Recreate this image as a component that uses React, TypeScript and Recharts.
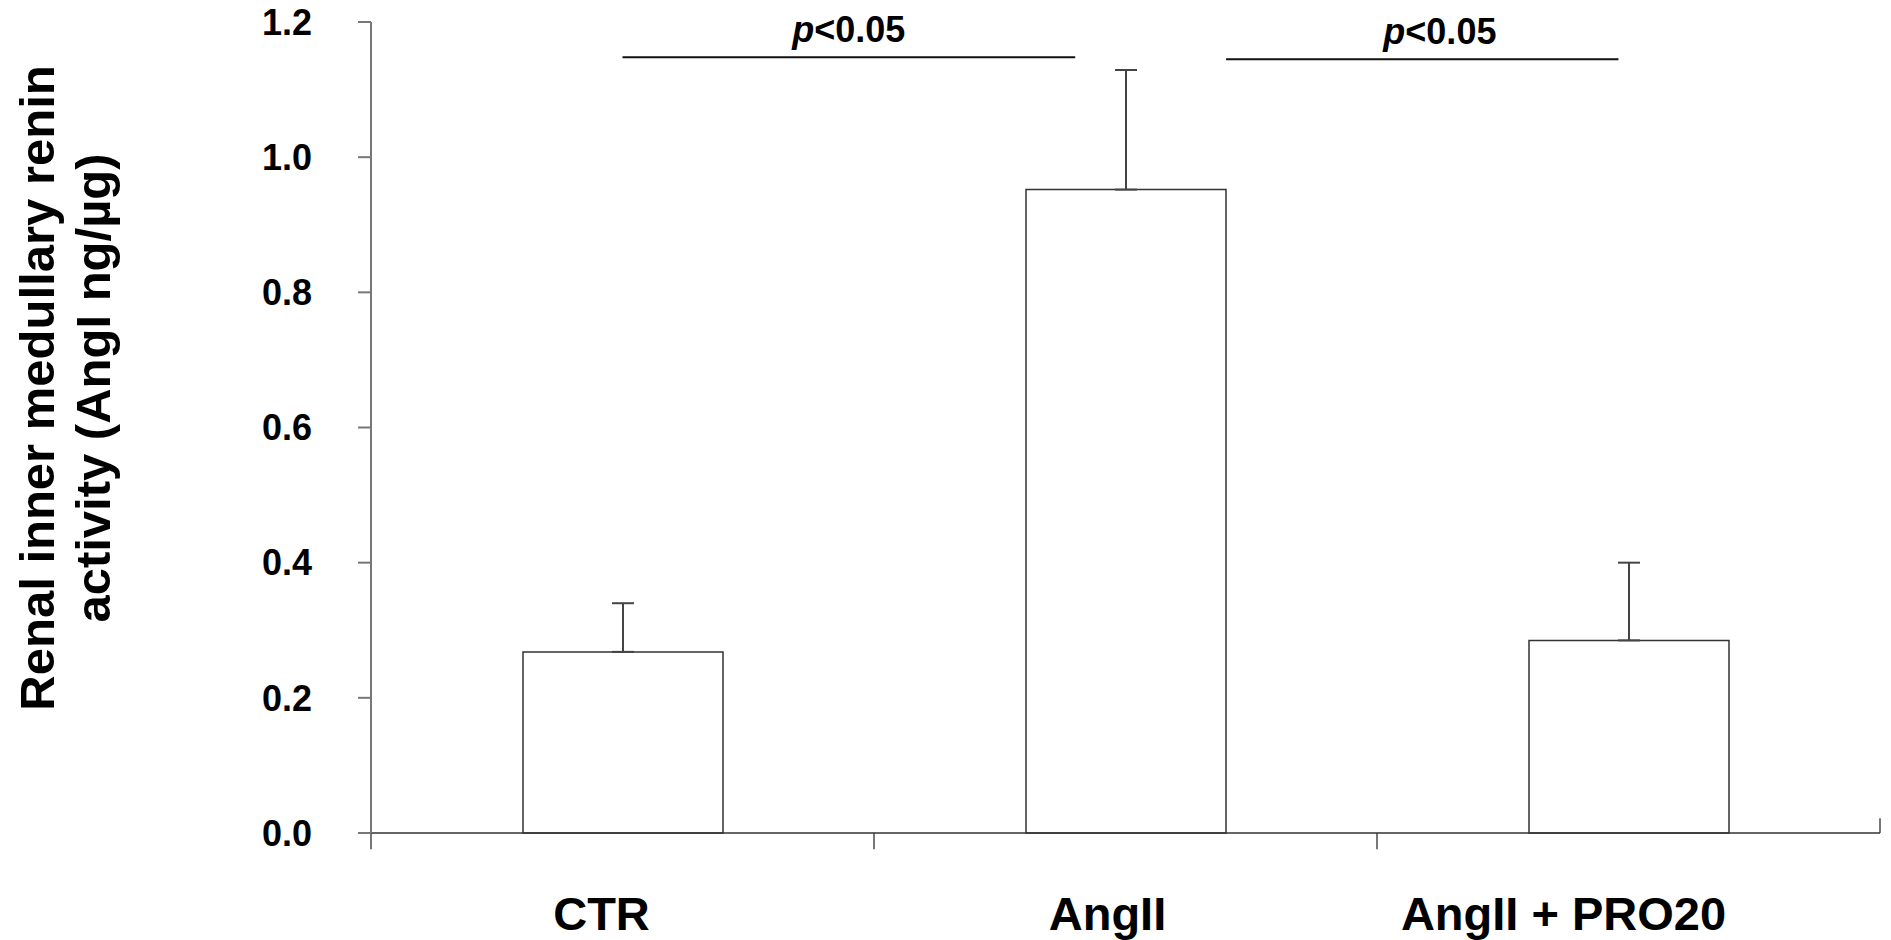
import {
  BarChart,
  Bar,
  XAxis,
  YAxis,
  ErrorBar,
  ReferenceLine,
  ReferenceDot,
} from 'recharts';

const groups = ['CTR', 'AngII', 'AngII + PRO20'];
const means = [0.268, 0.952, 0.285];
const sems = [0.072, 0.177, 0.115];
const yTicks = [0, 0.2, 0.4, 0.6, 0.8, 1.0, 1.2];

// significance brackets, in units of the hidden numeric x axis (one unit per group)
const brackets = [
  { from: 0.5, to: 1.4, y: 1.148, textAt: 0.95, text: '0.05' },
  { from: 1.7, to: 2.48, y: 1.145, textAt: 2.125, text: '0.05' },
];
// group boundaries on the numeric axis, where the x axis has its tick marks
const boundaries = [0, 1, 2];

const FONT = '"Liberation Sans", Arial, Helvetica, sans-serif';
const W = 1891;
const H = 940;
const AXIS_W = 371;
const LABEL_SHIFT = [-21, -18, -65];

const rows = groups.map((g, i) => ({
  group: g,
  slot: i + 0.5,
  mean: means[i],
  err: [0, sems[i]],
}));

function GroupTick({ x, y, payload, index }: any) {
  return (
    <text
      x={x + (LABEL_SHIFT[index] ?? 0)}
      y={y + 97}
      textAnchor="middle"
      fontFamily={FONT}
      fontWeight="bold"
      fontSize={47}
      fill="#000"
    >
      {payload.value}
    </text>
  );
}

function YTitle() {
  const cy = 388;
  return (
    <g fontFamily={FONT} fontWeight="bold" fontSize={49} fill="#000">
      <text x={54} y={cy} transform={`rotate(-90 54 ${cy})`} textAnchor="middle">
        Renal inner medullary renin
      </text>
      <text x={110} y={cy} transform={`rotate(-90 110 ${cy})`} textAnchor="middle">
        activity (AngI ng/µg)
      </text>
    </g>
  );
}

function PLabel({ viewBox, value }: any) {
  const cx = viewBox.x + viewBox.width / 2;
  const cy = viewBox.y + viewBox.height / 2;
  return (
    <text
      x={cx}
      y={cy - 15}
      textAnchor="middle"
      fontFamily={FONT}
      fontWeight="bold"
      fontSize={36}
      fill="#000"
    >
      <tspan fontStyle="italic">p</tspan>
      {'<' + value}
    </text>
  );
}

export default function App() {
  return (
    <div style={{ position: 'absolute', left: 0, top: 0, background: '#fff' }}>
      <BarChart
        width={W}
        height={H}
        data={rows}
        margin={{ top: 22, right: 11, left: 0, bottom: 0 }}
        barSize={200}
      >
        <XAxis
          xAxisId="num"
          dataKey="slot"
          type="number"
          scale="linear"
          domain={[0, 3]}
          allowDataOverflow
          hide
        />
        <XAxis
          dataKey="group"
          height={107}
          axisLine={{ stroke: '#333', strokeWidth: 1.5 }}
          tickLine={false}
          tickSize={0}
          tickMargin={0}
          interval={0}
          tick={<GroupTick />}
        />
        <YAxis
          width={AXIS_W}
          domain={[0, 1.2]}
          ticks={yTicks}
          interval={0}
          axisLine={{ stroke: '#777', strokeWidth: 2 }}
          tickLine={{ stroke: '#777', strokeWidth: 2 }}
          tickSize={13}
          tickMargin={46}
          tickFormatter={(v: number) => v.toFixed(1)}
          tick={{ fontFamily: FONT, fontWeight: 'bold', fontSize: 36, fill: '#000' }}
          label={<YTitle />}
        />
        <Bar
          dataKey="mean"
          fill="#fff"
          stroke="#333"
          strokeWidth={1.5}
          isAnimationActive={false}
        >
          <ErrorBar
            dataKey="err"
            width={11}
            stroke="#444"
            strokeWidth={2}
            isAnimationActive={false}
          />
        </Bar>
        {boundaries.map((b) => (
          <ReferenceLine
            key={'b' + b}
            xAxisId="num"
            segment={[{ x: b, y: 0 }, { x: b, y: -0.024 }]}
            stroke="#777"
            strokeWidth={2}
            ifOverflow="visible"
          />
        ))}
        <ReferenceLine
          xAxisId="num"
          segment={[{ x: 3, y: 0 }, { x: 3, y: 0.022 }]}
          stroke="#777"
          strokeWidth={2}
          ifOverflow="visible"
        />
        {brackets.map((b, i) => (
          <ReferenceLine
            key={'l' + i}
            xAxisId="num"
            segment={[{ x: b.from, y: b.y }, { x: b.to, y: b.y }]}
            stroke="#111"
            strokeWidth={2}
            ifOverflow="visible"
          />
        ))}
        {brackets.map((b, i) => (
          <ReferenceDot
            key={'t' + i}
            xAxisId="num"
            x={b.textAt}
            y={b.y}
            r={0}
            fill="none"
            stroke="none"
            ifOverflow="visible"
            label={<PLabel value={b.text} />}
          />
        ))}
      </BarChart>
    </div>
  );
}
